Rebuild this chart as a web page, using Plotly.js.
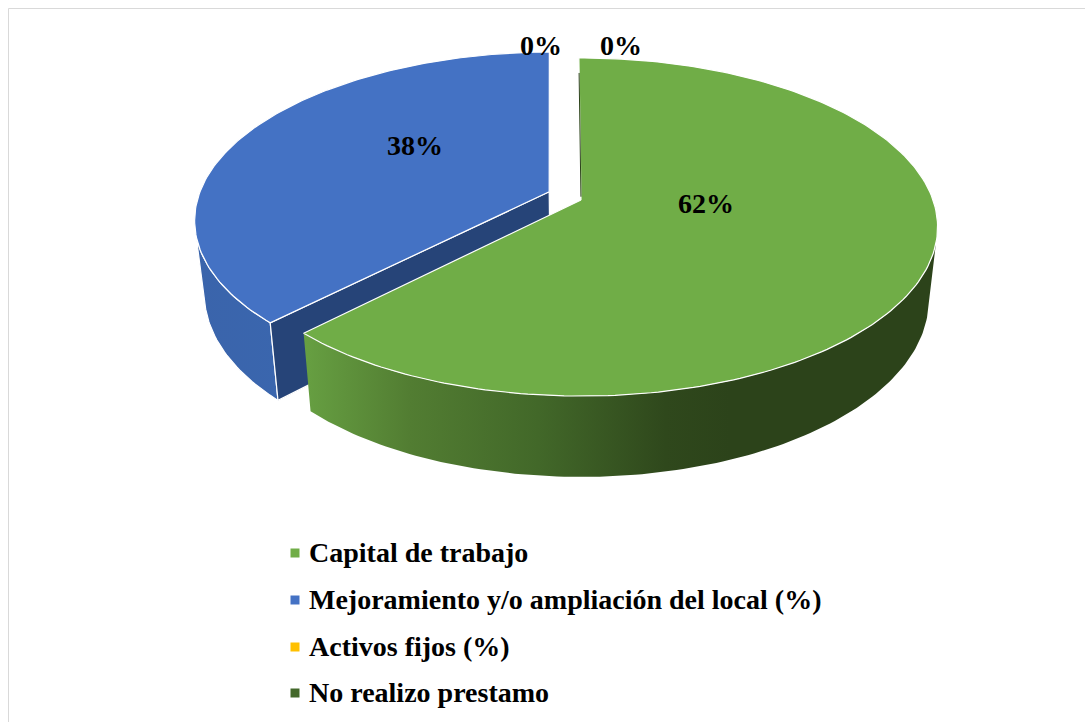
<!DOCTYPE html>
<html><head><meta charset="utf-8">
<script src="https://cdn.plot.ly/plotly-3.0.0.min.js"></script>
<style>html,body{margin:0;padding:0;background:#fff}#c{width:1085px;height:722px}</style>
</head><body><div id="c"></div>
<script>
const categories = ['Capital de trabajo','Mejoramiento y/o ampliación del local (%)','Activos fijos (%)','No realizo prestamo'];
const values = [62.4, 37.6, 0, 0];
const colors = ['#70AD47','#4472C4','#FFC000','#43682B'];

// projection of the tilted disc onto page pixels (the hidden axes run in pixels)
const CX=581, CY=200, R=352, S=164.7, P=0.16, K=0.975, KY=1.045, DEPTH=72, START=-0.4;
function proj(u,v,low){
  const d=1+P*v;
  let x=R*u/d, y=-S*v/d;
  if(low){x*=K; y=y*KY+DEPTH;}
  return [CX+x, CY+y];
}
const total=values.reduce((a,b)=>a+b,0);
function sliceAngles(i){
  let a=START; for(let k=0;k<i;k++) a+=values[k]/total*360;
  return [a, a+values[i]/total*360];
}
function pt(th,off,low,radius){
  const t=th*Math.PI/180, r=radius===undefined?1:radius;
  return proj(off[0]+r*Math.sin(t), off[1]+r*Math.cos(t), low);
}
function arc(a,b,off,low){
  const out=[], n=Math.max(2,Math.ceil(Math.abs(b-a)));
  for(let i=0;i<=n;i++) out.push(pt(a+(b-a)*i/n,off,low));
  return out;
}
function poly(points,fill,extra,name){
  const closed=points.concat([points[0]]);
  return Object.assign({type:'scatter',mode:'lines',x:closed.map(p=>p[0]),y:closed.map(p=>p[1]),
    fill:'toself',fillcolor:fill,line:{color:'#ffffff',width:1.2},hoverinfo:'skip',showlegend:false,name:name||''},extra||{});
}
const [ga,gb]=sliceAngles(0), [ba,bb]=sliceAngles(1);
const mid=(ba+bb)/2*Math.PI/180;
const gOff=[0,0], bOff=[-0.0911,0.05];
const apex=(off,low)=>proj(off[0],off[1],low);

const traces=[];
// blue outer wall
traces.push(poly(arc(ba,255,bOff,false).concat(arc(255,ba,bOff,true)),'#3A65AD',{
  fillgradient:{type:'horizontal',start:195,stop:280,colorscale:[[0,'#3A64AB'],[1,'#3A66AE']]}}));
// blue cut face
traces.push(poly([apex(bOff,false),pt(ba,bOff,false),pt(ba,bOff,true),apex(bOff,true)],'#264478'));
// blue top
traces.push(poly([apex(bOff,false)].concat(arc(ba,bb-0.4,bOff,false)),colors[1]));
// green outer wall
traces.push(poly(arc(ga+105,gb,gOff,false).concat(arc(gb,ga+105,gOff,true)),'#4a7530',{
  line:{color:'rgba(255,255,255,0)',width:0},
  fillgradient:{type:'horizontal',start:303,stop:730,colorscale:[[0,'#67A042'],[0.25,'#527D32'],[0.55,'#426829'],[0.85,'#2F481C'],[1,'#2C431A']]}}));
// green top
traces.push(poly([apex(gOff,false)].concat(arc(ga,gb,gOff,false)),colors[0]));
// the zero-valued slice shows as a hairline on the green edge
const hair0=pt(START,gOff,false,0.88), hair1=pt(START,gOff,false,0.02);
traces.push({type:'scatter',mode:'lines',x:[hair0[0],hair1[0]],y:[hair0[1],hair1[1]],
  line:{color:'#2C431A',width:1},hoverinfo:'skip',showlegend:false});

// legend, drawn on the same pixel axes
const legendY=[553,600,647,693];
traces.push({type:'scatter',mode:'markers',x:categories.map(()=>295),y:legendY,
  marker:{symbol:'square',size:9,color:colors,line:{width:0}},hoverinfo:'skip',showlegend:false});

const labelPos=[[706,203],[415,145],[541,45],[621,45]];
const font={family:'"Liberation Serif",serif',size:28,color:'#000000'};
const annotations=values.map((v,i)=>({x:labelPos[i][0],y:labelPos[i][1],xref:'x',yref:'y',
  text:'<b>'+Math.round(v)+'%</b>',showarrow:false,font:font,xanchor:'center',yanchor:'middle'}))
 .concat(categories.map((c,i)=>({x:308,y:legendY[i]-1,xref:'x',yref:'y',text:'<b>'+c+'</b>',showarrow:false,
   font:font,xanchor:'left',yanchor:'middle',xshift:-1})));

const layout={width:1085,height:722,margin:{l:0,r:0,t:0,b:0},paper_bgcolor:'#fff',plot_bgcolor:'rgba(0,0,0,0)',
  xaxis:{range:[0,1085],visible:false,fixedrange:true},
  yaxis:{range:[722,0],visible:false,fixedrange:true},
  annotations:annotations,
  shapes:[
   {type:'line',xref:'x',yref:'y',x0:8.5,x1:1085,y0:8.5,y1:8.5,line:{color:'#D9D9D9',width:1},layer:'below'},
   {type:'line',xref:'x',yref:'y',x0:8.5,x1:8.5,y0:8.5,y1:722,line:{color:'#D9D9D9',width:1},layer:'below'}],
  showlegend:false
};
Plotly.newPlot('c',traces,layout,{displayModeBar:false,staticPlot:true});
</script></body></html>
